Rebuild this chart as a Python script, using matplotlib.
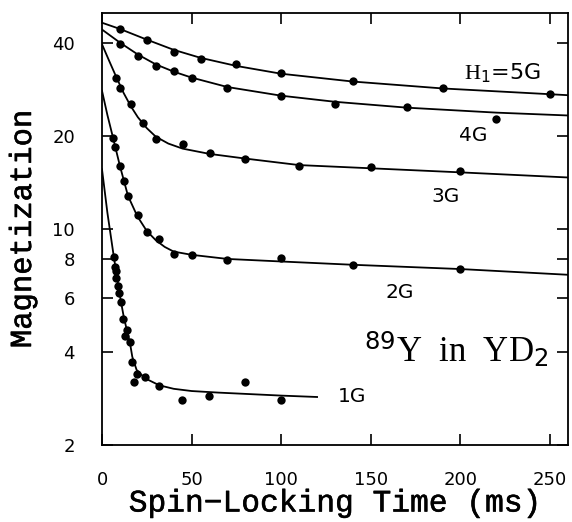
"""Spin-locking decay of 89Y magnetization in YD2 for several H1 fields."""
import matplotlib
matplotlib.use("Agg")
import matplotlib.pyplot as plt
import matplotlib.patheffects as pe

# measured points: spin-locking time (ms) and magnetization
t_5g = [10, 25, 40, 55, 75, 100, 140, 190, 250]
m_5g = [44.5, 41.0, 37.5, 35.6, 34.1, 31.9, 30.1, 28.6, 27.4]

t_4g = [10, 20, 30, 40, 50, 70, 100, 130, 170, 220]
m_4g = [39.8, 36.3, 33.6, 32.4, 30.8, 28.5, 27.0, 25.4, 24.8, 22.7]

t_3g = [8, 10, 16, 23, 30, 45, 60, 80, 110, 150, 200]
m_3g = [30.9, 28.6, 25.3, 22.1, 19.5, 18.8, 17.6, 16.9, 16.0, 15.9, 15.4]

t_2g = [6, 7, 10, 12.3, 14.5, 20, 25, 32, 40, 50, 70, 100, 140, 200]
m_2g = [19.7, 18.4, 15.95, 14.3, 12.8, 11.07, 9.78, 9.28, 8.32, 8.24,
        7.95, 8.05, 7.66, 7.42]

t_1g = [6.7, 7.2, 7.6, 7.8, 8.7, 9.6, 10.5, 11.9, 12.8, 13.8, 15.6, 16.9,
        17.6, 19.7, 23.9, 32, 44.7, 59.7, 79.6, 100]
m_1g = [8.11, 7.56, 7.34, 6.94, 6.52, 6.23, 5.80, 5.11, 4.51, 4.72, 4.32,
        3.70, 3.19, 3.40, 3.31, 3.10, 2.80, 2.89, 3.19, 2.80]

# fitted curves
fit_5g_t = [0, 10, 25, 40, 55, 75, 100, 140, 190, 250, 260]
fit_5g_m = [46.5, 44.4, 41.0, 38.0, 35.8, 33.7, 31.8, 30.0, 28.5, 27.3, 27.1]

fit_4g_t = [0, 10, 20, 30, 40, 50, 70, 100, 130, 170, 220, 260]
fit_4g_m = [44.2, 40.1, 36.7, 34.1, 32.3, 30.9, 28.8, 27.0, 25.8, 24.7,
            23.8, 23.3]

fit_3g_t = [0, 4, 8, 12, 16, 20, 25, 30, 37, 45, 60, 80, 110, 150, 200, 260]
fit_3g_m = [39.6, 35.0, 31.0, 27.6, 25.0, 23.0, 21.2, 19.9, 18.9, 18.2,
            17.5, 16.9, 16.1, 15.72, 15.25, 14.68]

fit_2g_t = [0, 3, 6.1, 10, 14.5, 19.7, 25, 30, 35, 40, 50, 70, 100, 140,
            200, 260]
fit_2g_m = [28.0, 23.4, 19.8, 16.0, 12.8, 11.0, 9.85, 9.2, 8.75, 8.45, 8.25,
            8.0, 7.85, 7.66, 7.42, 7.11]

fit_1g_t = [0, 3, 6.5, 8.5, 10.5, 12, 13.8, 15.6, 16.9, 19.3, 23.9, 32, 40,
            50, 65, 100, 120]
fit_1g_m = [15.6, 11.3, 8.2, 6.9, 5.85, 5.25, 4.72, 4.28, 3.86, 3.5, 3.29,
            3.12, 3.04, 2.99, 2.955, 2.89, 2.86]

y_ticks = [2, 4, 6, 8, 10, 20, 40]
x_ticks = [0, 50, 100, 150, 200, 250]

plt.rcParams["mathtext.fontset"] = "custom"
plt.rcParams["mathtext.it"] = "Liberation Serif"
plt.rcParams["mathtext.rm"] = "DejaVu Sans"
plt.rcParams["mathtext.sf"] = "DejaVu Sans"

fig = plt.figure(figsize=(5.72, 5.22), dpi=100)
ax = fig.add_axes([102 / 572, 1 - 445 / 522, 466 / 572, 432 / 522])

series = [
    (t_5g, m_5g, fit_5g_t, fit_5g_m),
    (t_4g, m_4g, fit_4g_t, fit_4g_m),
    (t_3g, m_3g, fit_3g_t, fit_3g_m),
    (t_2g, m_2g, fit_2g_t, fit_2g_m),
    (t_1g, m_1g, fit_1g_t, fit_1g_m),
]
for t, m, ft, fm in series:
    ax.plot(ft, fm, color="black", lw=1.3, solid_joinstyle="round")
    ax.plot(t, m, "o", color="black", markersize=6, markeredgewidth=0)

ax.set_yscale("log")
ax.set_xlim(0, 260)
ax.set_ylim(2, 50)
ax.set_yticks(y_ticks)
ax.set_yticklabels([str(v) for v in y_ticks])
ax.yaxis.set_minor_locator(matplotlib.ticker.NullLocator())
ax.set_xticks(x_ticks)
ax.set_xticklabels([str(v) for v in x_ticks])

ax.tick_params(which="both", direction="in", top=True, right=True,
               length=8, width=1.2, labelsize=13,
               labelfontfamily="DejaVu Sans")
ax.tick_params(axis="x", pad=18.5)
ax.tick_params(axis="y", pad=19.5)
for spine in ax.spines.values():
    spine.set_linewidth(1.3)

# curve labels
ax.text(202, 30.5, "$H_1$=5G", fontsize=16, family="DejaVu Sans",
        ha="left", va="baseline")
ax.text(207, 19.2, "4G", fontsize=14.5, family="DejaVu Sans",
        ha="center", va="baseline")
ax.text(191.5, 12.26, "3G", fontsize=14.5, family="DejaVu Sans",
        ha="center", va="baseline")
ax.text(166, 5.99, "2G", fontsize=14.5, family="DejaVu Sans",
        ha="center", va="baseline")
ax.text(139.5, 2.76, "1G", fontsize=14.5, family="DejaVu Sans",
        ha="center", va="baseline")
ax.text(146.4, 3.72, "$^{89}Y$  in  $YD_2$", fontsize=25,
        family="Liberation Serif", ha="left", va="baseline")

thick = [pe.withStroke(linewidth=0.4, foreground="black")]
fig.text(335 / 572, 1 - 511.5 / 522, "Spin\u2212Locking Time (ms)",
         family=["Liberation Mono", "DejaVu Sans Mono"], fontsize=22.5,
         ha="center", va="baseline", path_effects=thick)
fig.text(23 / 572, 1 - 229.5 / 522, "Magnetization",
         family=["Liberation Mono", "DejaVu Sans Mono"], fontsize=22,
         rotation=90, ha="center", va="center", path_effects=thick)

fig.savefig("out.png", dpi=100)
